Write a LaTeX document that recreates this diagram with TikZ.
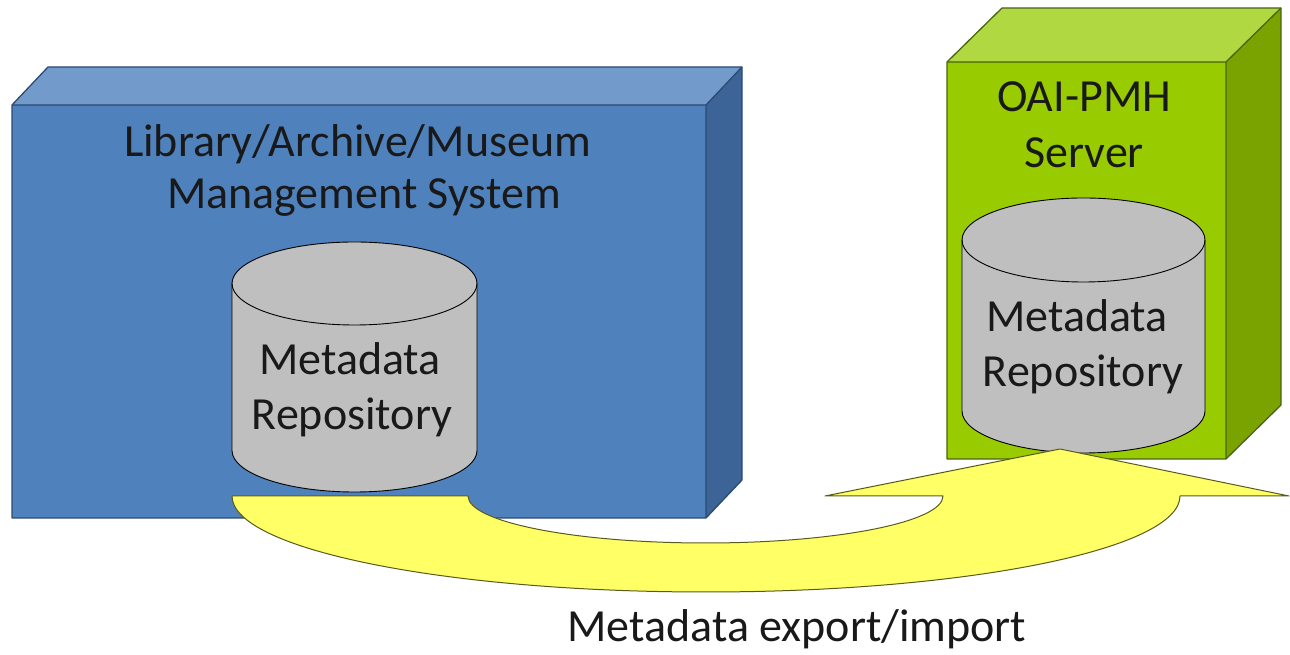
\documentclass[tikz,border=0pt]{standalone}
\usepackage{fontspec}
\setmainfont{Carlito}
\definecolor{bluefront}{HTML}{4F81BD}
\definecolor{bluetop}{HTML}{729ACB}
\definecolor{blueside}{HTML}{3C6496}
\definecolor{blueline}{HTML}{2C4A72}
\definecolor{greenfront}{HTML}{99CC00}
\definecolor{greentop}{HTML}{B0D840}
\definecolor{greenside}{HTML}{7AA300}
\definecolor{greenline}{HTML}{4A6314}
\definecolor{cylgray}{HTML}{BFBFBF}
\definecolor{arrowyellow}{HTML}{FFFF66}
\definecolor{arrowline}{HTML}{5A5A1E}
\begin{document}
\begin{tikzpicture}[x=1pt,y=1pt,
  bluebox/.style={draw=blueline,line width=1.3pt,line join=round},
  greenbox/.style={draw=greenline,line width=1.3pt,line join=round},
  cyl/.style={draw=black,line width=0.9pt,fill=cylgray},
  bigtext/.style={font=\fontsize{46}{55}\selectfont,text=black!90,inner sep=0pt,anchor=base},
  bigarrow/.style={draw=arrowline,line width=1pt,fill=arrowyellow,line join=round}]
\useasboundingbox[fill=white] (0,0) rectangle (1290,655);

% ---- blue box (Library/Archive/Museum) ----
\coordinate (bA) at (12,137);   % front bottom-left
\coordinate (bB) at (706,137);  % front bottom-right
\coordinate (bC) at (706,550);  % front top-right
\coordinate (bD) at (12,550);   % front top-left
\coordinate (bE) at (48,588);   % back top-left
\coordinate (bF) at (742,588);  % back top-right
\coordinate (bG) at (742,175);  % back bottom-right
\fill[bluefront] (bA) -- (bB) -- (bC) -- (bD) -- cycle;
\fill[bluetop] (bD) -- (bC) -- (bF) -- (bE) -- cycle;
\fill[blueside] (bB) -- (bG) -- (bF) -- (bC) -- cycle;
\draw[bluebox] (bA) -- (bB) -- (bG) -- (bF) -- (bE) -- (bD) -- cycle;
\draw[bluebox] (bD) -- (bC) -- (bB) (bC) -- (bF);

\node[bigtext] (lt1) at (357.5,498) {Library/Archive/Museum};
\node[bigtext] (lt2) at (364,446) {Management System};

% ---- green box (OAI-PMH Server) ----
\coordinate (gA) at (947,196);
\coordinate (gB) at (1226,196);
\coordinate (gC) at (1226,593);
\coordinate (gD) at (947,593);
\coordinate (gE) at (1002,647);
\coordinate (gF) at (1281,647);
\coordinate (gG) at (1281,250);
\fill[greenfront] (gA) -- (gB) -- (gC) -- (gD) -- cycle;
\fill[greentop] (gD) -- (gC) -- (gF) -- (gE) -- cycle;
\fill[greenside] (gB) -- (gG) -- (gF) -- (gC) -- cycle;
\draw[greenbox] (gA) -- (gB) -- (gG) -- (gF) -- (gE) -- (gD) -- cycle;
\draw[greenbox] (gD) -- (gC) -- (gB) (gC) -- (gF);

\node[bigtext] (rt1) at (1084,543) {OAI-PMH};
\node[bigtext] (rt2) at (1084,487) {Server};

% ---- left cylinder ----
\draw[cyl] (232,371.5) -- (232,204.5)
  arc[start angle=180,end angle=360,x radius=122.5,y radius=41.5]
  -- (477,371.5)
  arc[start angle=0,end angle=180,x radius=122.5,y radius=41.5] -- cycle;
\draw[draw=black,line width=0.9pt] (232,371.5)
  arc[start angle=180,end angle=360,x radius=122.5,y radius=41.5];
\node[bigtext] (lc1) at (350,280) {Metadata};
\node[bigtext] (lc2) at (352,225) {Repository};

% ---- right cylinder ----
\draw[cyl] (962,415) -- (962,244)
  arc[start angle=180,end angle=360,x radius=121.5,y radius=42]
  -- (1205,415)
  arc[start angle=0,end angle=180,x radius=121.5,y radius=42] -- cycle;
\draw[draw=black,line width=0.9pt] (962,415)
  arc[start angle=180,end angle=360,x radius=121.5,y radius=42];
\node[bigtext] (rc1) at (1077,323) {Metadata};
\node[bigtext] (rc2) at (1083,268) {Repository};

% ---- curved up arrow ----
\coordinate (tailL) at (232,159);
\coordinate (tailR) at (468,159);
\coordinate (headBL) at (825,159);
\coordinate (headTip) at (1060,206);
\coordinate (headBR) at (1289,159);
\coordinate (outerR) at (1180,159);
\draw[bigarrow] (tailL) -- (tailR)
  arc[start angle=180,end angle=360,x radius=237.5,y radius=47]
  -- (headBL) -- (headTip) -- (headBR) -- (outerR)
  arc[start angle=0,end angle=-180,x radius=474,y radius=96] -- cycle;

\node[bigtext] (cap) at (797,13) {Metadata export/import};
\end{tikzpicture}
\end{document}
